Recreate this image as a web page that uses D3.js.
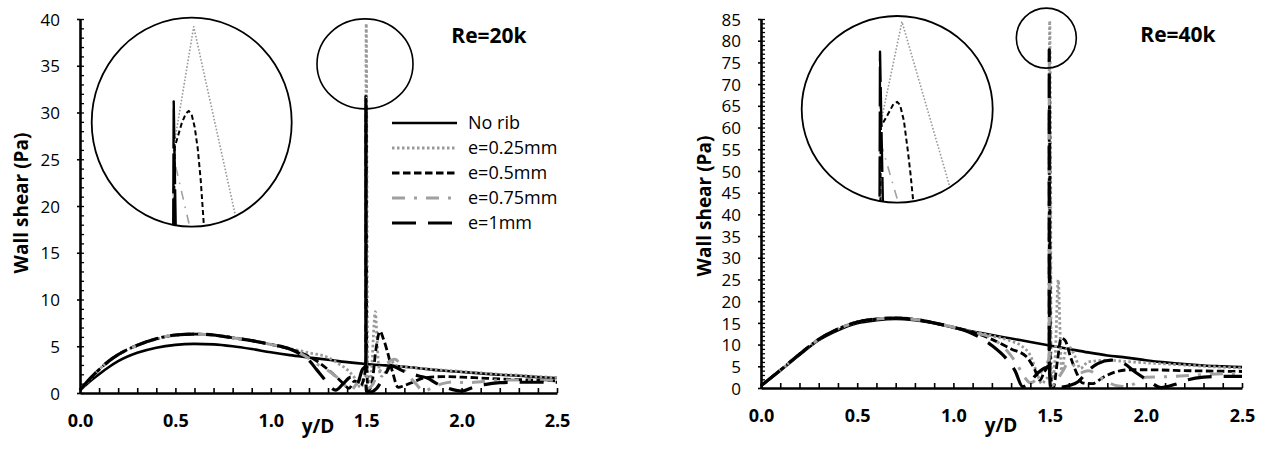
<!DOCTYPE html>
<html>
<head>
<meta charset="utf-8">
<script src="https://cdn.jsdelivr.net/npm/d3@7"></script>
<style>
  body { margin: 0; background: #fff; }
  svg text { font-family: "Open Sans", "Liberation Sans", sans-serif; fill: #000; }
</style>
</head>
<body>
<svg id="chart" width="1263" height="450"></svg>
<script>
// ---- Wall shear along y/D, Re = 20k ----
const noRib20 = [[0,0.3],[0.05,1.2],[0.1,2.0],[0.15,2.75],[0.2,3.4],[0.3,4.3],[0.4,4.85],[0.5,5.15],[0.6,5.25],[0.7,5.2],[0.8,5.0],[0.9,4.7],[1.0,4.35],[1.1,4.05],[1.2,3.8],[1.3,3.55],[1.4,3.3],[1.5,3.1],[1.6,2.95],[1.7,2.8],[1.8,2.6],[1.9,2.4],[2.0,2.25],[2.1,2.1],[2.2,1.95],[2.3,1.85],[2.4,1.7],[2.5,1.6]];
const e025_20 = [[0,0.3],[0.05,1.4],[0.1,2.5],[0.15,3.4],[0.2,4.1],[0.3,5.1],[0.4,5.75],[0.5,6.15],[0.6,6.3],[0.7,6.2],[0.8,5.95],[0.9,5.6],[1.0,5.2],[1.1,4.75],[1.2,4.3],[1.3,3.8],[1.35,3.2],[1.4,2.5],[1.44,1.6],[1.47,0.6],[1.49,1.5],[1.4981,2.5],[1.4982,26.9],[1.5002,39.5],[1.5043,20.1],[1.507,3.0],[1.515,1.0],[1.53,3.0],[1.54,7.0],[1.548,8.7],[1.556,6.0],[1.565,3.0],[1.58,1.8],[1.6,2.2],[1.63,3.4],[1.66,2.9],[1.7,2.8],[1.8,2.6],[1.9,2.45],[2.0,2.3],[2.1,2.15],[2.2,2.0],[2.3,1.9],[2.4,1.75],[2.5,1.65]];
const e05_20 = [[0,0.3],[0.05,1.5],[0.1,2.5],[0.15,3.4],[0.2,4.1],[0.3,5.1],[0.4,5.8],[0.5,6.2],[0.6,6.3],[0.7,6.2],[0.8,5.9],[0.9,5.6],[1.0,5.2],[1.1,4.7],[1.15,4.35],[1.2,3.9],[1.25,3.3],[1.3,2.5],[1.35,1.6],[1.38,1.0],[1.41,0.5],[1.44,1.3],[1.47,0.8],[1.49,1.8],[1.4981,3.0],[1.4983,26.9],[1.4990,29.4],[1.4994,30.4],[1.4997,30.7],[1.5000,30.3],[1.5003,29.0],[1.5006,26.8],[1.5009,23.5],[1.5012,19.0],[1.503,3.0],[1.51,0.3],[1.53,1.0],[1.55,4.5],[1.572,6.6],[1.59,5.8],[1.61,4.5],[1.64,2.1],[1.667,0.6],[1.7,0.8],[1.75,1.2],[1.8,1.6],[1.9,1.75],[2.0,1.7],[2.1,1.6],[2.2,1.5],[2.35,1.4],[2.5,1.3]];
const e075_20 = [[0,0.3],[0.05,1.5],[0.1,2.5],[0.15,3.4],[0.2,4.1],[0.3,5.1],[0.4,5.8],[0.5,6.2],[0.6,6.3],[0.7,6.2],[0.8,5.9],[0.9,5.6],[1.0,5.2],[1.1,4.7],[1.2,3.7],[1.25,3.0],[1.3,2.4],[1.34,1.8],[1.38,1.0],[1.42,0.3],[1.45,1.0],[1.48,1.8],[1.4981,2.5],[1.4982,25.8],[1.4998,18.6],[1.502,3.0],[1.51,0.5],[1.53,0.8],[1.56,2.0],[1.6,3.0],[1.65,3.6],[1.7,2.4],[1.76,1.0],[1.8,0.2],[1.85,0.6],[1.9,1.0],[1.96,1.2],[2.02,1.1],[2.1,1.2],[2.2,1.4],[2.35,1.4],[2.5,1.35]];
const e1_20 = [[0,0.3],[0.05,1.5],[0.1,2.5],[0.15,3.4],[0.2,4.1],[0.3,5.1],[0.4,5.8],[0.5,6.2],[0.6,6.3],[0.7,6.2],[0.8,5.9],[0.9,5.6],[1.0,5.2],[1.1,4.7],[1.15,4.2],[1.2,3.5],[1.24,2.5],[1.28,1.5],[1.31,0.7],[1.34,0.3],[1.38,1.0],[1.42,1.7],[1.45,0.9],[1.48,2.5],[1.4981,3.0],[1.4982,31.7],[1.4984,18.6],[1.4986,2.0],[1.5,0.2],[1.52,0.1],[1.555,0.5],[1.6,2.0],[1.63,2.9],[1.7,2.3],[1.78,1.8],[1.82,1.6],[1.87,1.0],[1.93,0.5],[2.0,0.2],[2.06,0.6],[2.12,0.9],[2.2,1.1],[2.3,1.15],[2.5,1.15]];

// ---- Wall shear along y/D, Re = 40k ----
const noRib40 = [[0,0.5],[0.1,4.0],[0.2,7.6],[0.3,11.0],[0.4,13.3],[0.5,14.9],[0.6,15.6],[0.7,15.9],[0.8,15.6],[0.9,14.9],[1.0,13.9],[1.1,13.0],[1.2,12.2],[1.3,11.4],[1.4,10.6],[1.5,9.8],[1.6,9.0],[1.7,8.2],[1.8,7.5],[1.9,7.0],[2.0,6.4],[2.1,5.9],[2.2,5.5],[2.3,5.2],[2.4,5.0],[2.5,4.8]];
const e025_40 = [[0,0.5],[0.1,4.1],[0.2,7.8],[0.3,11.2],[0.4,13.6],[0.5,15.2],[0.6,15.9],[0.7,16.1],[0.8,15.8],[0.9,15.0],[1.0,14.0],[1.1,13.0],[1.2,12.0],[1.3,10.8],[1.36,9.5],[1.4,7.5],[1.43,4.0],[1.46,1.0],[1.48,2.0],[1.4981,3.0],[1.4982,61.2],[1.5005,84.6],[1.5055,47.8],[1.508,5.0],[1.515,2.0],[1.53,8.0],[1.545,24.9],[1.553,15.0],[1.562,4.0],[1.58,8.0],[1.6,9.5],[1.63,7.5],[1.66,4.5],[1.7,6.0],[1.8,6.4],[1.9,6.1],[2.0,5.8],[2.2,5.3],[2.35,4.9],[2.5,4.6]];
const e05_40 = [[0,0.5],[0.1,4.1],[0.2,7.8],[0.3,11.2],[0.4,13.6],[0.5,15.2],[0.6,15.9],[0.7,16.1],[0.8,15.8],[0.9,15.0],[1.0,14.0],[1.1,12.9],[1.2,11.2],[1.3,9.0],[1.38,7.2],[1.42,4.5],[1.45,1.8],[1.47,3.5],[1.49,5.0],[1.4981,6.0],[1.4983,61.2],[1.4990,63.8],[1.4996,66.2],[1.5000,66.7],[1.5003,66.0],[1.5007,62.5],[1.5011,56.0],[1.5014,50.5],[1.5017,44.0],[1.505,3.0],[1.52,0.1],[1.54,6.0],[1.56,11.5],[1.58,11.0],[1.61,7.0],[1.64,3.5],[1.67,1.2],[1.72,1.0],[1.78,2.5],[1.85,3.8],[1.92,4.2],[2.0,4.2],[2.2,4.0],[2.5,3.8]];
const e075_40 = [[0,0.5],[0.1,4.1],[0.2,7.8],[0.3,11.2],[0.4,13.6],[0.5,15.2],[0.6,15.9],[0.7,16.1],[0.8,15.8],[0.9,15.0],[1.0,14.0],[1.1,12.8],[1.2,11.5],[1.28,8.5],[1.33,5.5],[1.37,2.5],[1.4,1.2],[1.44,2.5],[1.47,4.8],[1.49,6.0],[1.4981,7.0],[1.4982,76.0],[1.4983,57.5],[1.5001,44.3],[1.503,3.0],[1.51,0.5],[1.54,2.0],[1.57,4.0],[1.6,6.0],[1.63,5.0],[1.66,3.5],[1.7,4.0],[1.78,2.0],[1.85,0.5],[1.9,0.3],[1.95,1.2],[2.0,2.5],[2.1,2.6],[2.2,2.8],[2.3,3.1],[2.5,3.4]];
const e1_40 = [[0,0.5],[0.1,4.1],[0.2,7.8],[0.3,11.2],[0.4,13.6],[0.5,15.2],[0.6,15.9],[0.7,16.1],[0.8,15.8],[0.9,15.0],[1.0,14.0],[1.1,12.5],[1.2,9.8],[1.28,6.5],[1.32,4.0],[1.36,0.3],[1.4,1.5],[1.44,3.5],[1.47,4.5],[1.4981,5.0],[1.4982,77.9],[1.4985,44.0],[1.4988,5.0],[1.505,0.3],[1.53,0.4],[1.55,0.2],[1.6,0.5],[1.65,1.5],[1.7,4.0],[1.75,5.6],[1.82,6.4],[1.88,5.8],[1.95,3.5],[2.02,1.5],[2.08,0.1],[2.15,0.8],[2.22,1.9],[2.3,2.5],[2.4,2.7],[2.5,2.7]];

// ---- labels and ticks ----
const legendLabels = ["No rib", "e=0.25mm", "e=0.5mm", "e=0.75mm", "e=1mm"];
const xTickLabels = [0, 0.5, 1.0, 1.5, 2.0, 2.5];
const yTickLabels20 = [0, 5, 10, 15, 20, 25, 30, 35, 40];
const yTickLabels40 = [0, 5, 10, 15, 20, 25, 30, 35, 40, 45, 50, 55, 60, 65, 70, 75, 80, 85];
const titles = ["Re=20k", "Re=40k"];

// line styles, in legend order (main plot / magnified view)
const styles = [
  { color: "#000",    width: 2.6, dash: null,         iw: 2.2, idash: null },
  { color: "#999",    width: 2.8, dash: "2.5 2.5",    iw: 1.6, idash: "1.6 1.8" },
  { color: "#000",    width: 2.8, dash: "7.5 3.5",    iw: 2.0, idash: "5 3" },
  { color: "#a0a0a0", width: 3.0, dash: "13 9 3 9",   iw: 1.6, idash: "9 7 1.5 7" },
  { color: "#000",    width: 3.2, dash: "24 12",      iw: 2.4, idash: "40 5" }
];

const panels = [
  {
    id: "re20", series: [noRib20, e025_20, e05_20, e075_20, e1_20],
    yMax: 40, yTicks: yTickLabels20, title: titles[0],
    xr: [80, 557], yr: [393, 19],
    yTitle: [21, 203], xTitle: [318, 433], titlePos: [489, 43],
    spot: { x: 1.4937, y: 35.2, rx: 48, ry: 45 },
    lens: { cx: 191.7, cy: 122.2, rx: 100, ry: 104.5, xd: [1.490, 1.510], yd: [18.6, 39.5], yTop: 26.7 },
    legend: { x0: 392, x1: 457, tx: 468, y0: 123, dy: 25 }
  },
  {
    id: "re40", series: [noRib40, e025_40, e05_40, e075_40, e1_40],
    yMax: 85, yTicks: yTickLabels40, title: titles[1],
    xr: [761, 1242], yr: [388, 19],
    yTitle: [704, 206], xTitle: [1001, 432], titlePos: [1178, 42],
    spot: { x: 1.483, y: 80.6, rx: 30, ry: 30 },
    lens: { cx: 897.2, cy: 109.3, rx: 95.5, ry: 93.3, xd: [1.490, 1.510], yd: [44.2, 84.6], yTop: 21.7 },
    legend: null
  }
];

const svg = d3.select("#chart");
const defs = svg.append("defs");

function styleLine(sel, st, inset) {
  sel.attr("fill", "none")
     .attr("stroke", st.color)
     .attr("stroke-width", inset ? st.iw : st.width)
     .attr("stroke-linejoin", "round")
     .attr("stroke-dasharray", inset ? st.idash : st.dash);
}

panels.forEach(p => {
  const g = svg.append("g").attr("id", p.id);
  const x = d3.scaleLinear().domain([0, 2.5]).range(p.xr);
  const y = d3.scaleLinear().domain([0, p.yMax]).range(p.yr);
  const line = d3.line().x(d => x(d[0])).y(d => y(d[1])).curve(d3.curveMonotoneX);

  // series curves
  p.series.forEach((s, i) => {
    g.append("path").attr("d", line(s)).call(styleLine, styles[i], false);
  });

  // minor ticks
  g.append("g").attr("transform", `translate(0,${p.yr[0]})`)
    .call(d3.axisTop(x).tickValues(d3.range(0, 26).map(k => k / 10)).tickSize(5).tickFormat(""))
    .call(a => a.select(".domain").remove())
    .call(a => a.selectAll("line").attr("stroke-width", 1.6));
  g.append("g").attr("transform", `translate(${p.xr[0]},0)`)
    .call(d3.axisRight(y).tickValues(d3.range(0, p.yMax + 1)).tickSize(4).tickFormat(""))
    .call(a => a.select(".domain").remove())
    .call(a => a.selectAll("line").attr("stroke-width", 1.3));

  // main axes (compact font for the tightly spaced value labels)
  g.append("g").attr("transform", `translate(${p.xr[0]},0)`)
    .call(d3.axisLeft(y).tickValues(p.yTicks).tickSize(3).tickSizeOuter(0).tickPadding(17))
    .call(a => a.select(".domain").attr("stroke-width", 2.6))
    .call(a => a.selectAll("line").attr("stroke-width", 1.6))
    .call(a => a.selectAll("text").attr("font-size", 17).attr("font-family", "Liberation Sans").attr("dy", "0.36em"));
  g.append("g").attr("transform", `translate(0,${p.yr[0]})`)
    .call(d3.axisBottom(x).tickValues(xTickLabels).tickSize(0).tickSizeOuter(0).tickPadding(21).tickFormat(d3.format(".1f")))
    .call(a => a.select(".domain").attr("stroke-width", 2.6))
    .call(a => a.selectAll("text").attr("font-size", 18).attr("font-weight", "bold").attr("font-family", "Open Sans"));

  // axis titles and panel title
  g.append("text").attr("transform", `translate(${p.yTitle[0]},${p.yTitle[1]}) rotate(-90)`)
    .attr("text-anchor", "middle").attr("dy", "0.35em")
    .attr("font-size", 19).attr("font-weight", "bold").text("Wall shear (Pa)");
  g.append("text").attr("x", p.xTitle[0]).attr("y", p.xTitle[1])
    .attr("text-anchor", "middle").attr("font-size", 19).attr("font-weight", "bold").text("y/D");
  g.append("text").attr("x", p.titlePos[0]).attr("y", p.titlePos[1])
    .attr("text-anchor", "middle").attr("font-size", 21).attr("font-weight", "bold").text(p.title);

  // circle marking the peak region
  g.append("ellipse").attr("cx", x(p.spot.x)).attr("cy", y(p.spot.y))
    .attr("rx", p.spot.rx).attr("ry", p.spot.ry)
    .attr("fill", "none").attr("stroke", "#000").attr("stroke-width", 1.6);

  // magnified view of the peaks (straight segments between samples)
  const L = p.lens;
  const clipId = "lens-" + p.id;
  defs.append("clipPath").attr("id", clipId).append("ellipse")
    .attr("cx", L.cx).attr("cy", L.cy).attr("rx", L.rx).attr("ry", L.ry);
  const xi = d3.scaleLinear().domain(L.xd).range([L.cx - L.rx, L.cx + L.rx]);
  const yi = d3.scaleLinear().domain(L.yd).range([L.cy + L.ry, L.yTop]);
  const lineI = d3.line().x(d => xi(d[0])).y(d => yi(d[1]));
  const gi = g.append("g").attr("clip-path", `url(#${clipId})`);
  p.series.forEach((s, i) => {
    gi.append("path").attr("d", lineI(s)).call(styleLine, styles[i], true);
  });
  g.append("ellipse").attr("cx", L.cx).attr("cy", L.cy).attr("rx", L.rx).attr("ry", L.ry)
    .attr("fill", "none").attr("stroke", "#000").attr("stroke-width", 1.8);

  // legend
  if (p.legend) {
    const lg = g.append("g");
    legendLabels.forEach((lab, i) => {
      const yy = p.legend.y0 + i * p.legend.dy;
      lg.append("line").attr("x1", p.legend.x0).attr("x2", p.legend.x1)
        .attr("y1", yy).attr("y2", yy).call(styleLine, styles[i], false);
      lg.append("text").attr("x", p.legend.tx).attr("y", yy).attr("dy", "0.35em")
        .attr("font-size", 18).text(lab);
    });
  }
});
</script>
</body>
</html>
